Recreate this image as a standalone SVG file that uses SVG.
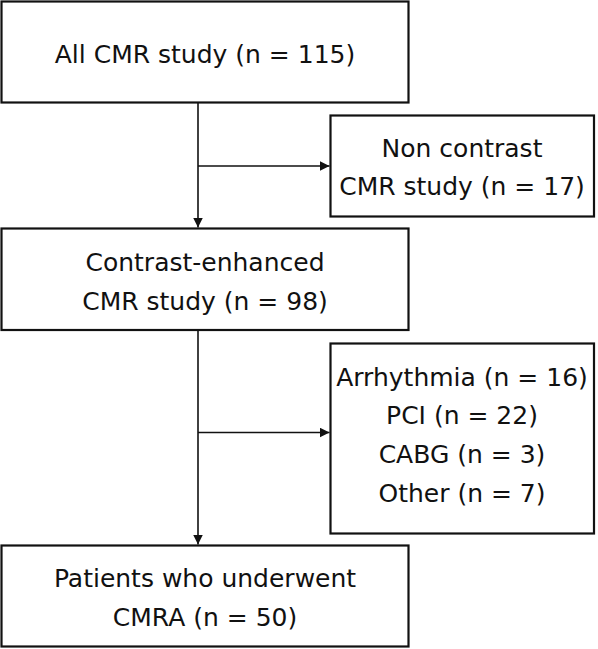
<svg xmlns="http://www.w3.org/2000/svg" width="598" height="649" viewBox="0 0 598 649">
<style>
.box{fill:#fff;stroke:#111;stroke-width:2.2}
.t{font-family:"DejaVu Sans","Noto Sans",sans-serif;font-size:25px;fill:#111;text-anchor:middle}
.ln{fill:none;stroke:#111;stroke-width:1.6}
</style>
<defs>
<marker id="ah" viewBox="0 0 10 10" refX="10" refY="5" markerWidth="10" markerHeight="10" markerUnits="userSpaceOnUse" orient="auto">
<path d="M0,0 L10,5 L0,10 z" fill="#111"/>
</marker>
</defs>
<rect width="598" height="649" fill="#fff"/>
<g id="connectors">
<line class="ln" x1="198" y1="103" x2="198" y2="227.5" marker-end="url(#ah)"/>
<line class="ln" x1="198" y1="166" x2="329.5" y2="166" marker-end="url(#ah)"/>
<line class="ln" x1="198" y1="330" x2="198" y2="544.5" marker-end="url(#ah)"/>
<line class="ln" x1="198" y1="432.5" x2="329.5" y2="432.5" marker-end="url(#ah)"/>
</g>
<g id="n1">
<rect class="box" x="1.5" y="1.5" width="407" height="101"/>
<text class="t" x="205" y="63">All CMR study (n = 115)</text>
</g>
<g id="n2">
<rect class="box" x="330.5" y="115.5" width="263.5" height="101"/>
<text class="t" x="462" y="157">Non contrast</text>
<text class="t" x="462" y="195">CMR study (n = 17)</text>
</g>
<g id="n3">
<rect class="box" x="1.5" y="228.5" width="407" height="101.5"/>
<text class="t" x="205" y="271">Contrast-enhanced</text>
<text class="t" x="205" y="310">CMR study (n = 98)</text>
</g>
<g id="n4">
<rect class="box" x="330.5" y="343.5" width="263.5" height="190"/>
<text class="t" x="462" y="386">Arrhythmia (n = 16)</text>
<text class="t" x="462" y="424">PCI (n = 22)</text>
<text class="t" x="462" y="463">CABG (n = 3)</text>
<text class="t" x="462" y="502">Other (n = 7)</text>
</g>
<g id="n5">
<rect class="box" x="1.5" y="545.5" width="407" height="101"/>
<text class="t" x="205" y="587">Patients who underwent</text>
<text class="t" x="205" y="626">CMRA (n = 50)</text>
</g>
</svg>
